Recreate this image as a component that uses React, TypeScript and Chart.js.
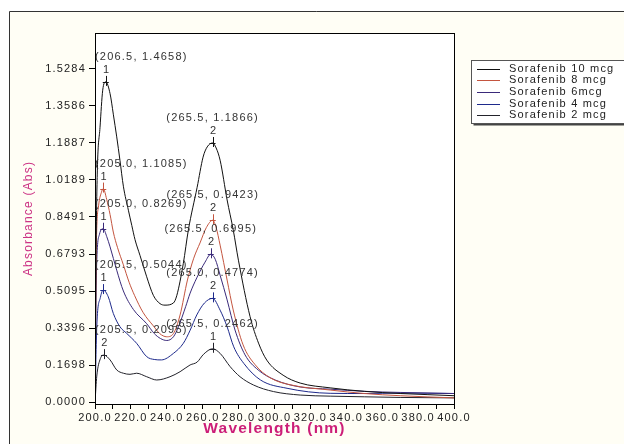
import React, { useEffect, useRef } from "react";
import { Chart, registerables } from "chart.js";

Chart.register(...registerables);

// ---- data ----
const seriesLabels = ["Sorafenib 10 mcg", "Sorafenib 8 mcg", "Sorafenib 6mcg", "Sorafenib 4 mcg", "Sorafenib 2 mcg"];
const seriesColors = ["#111111", "#c4553f", "#3a2a7a", "#1e2a8c", "#23232b"];

const wl10 = [200, 200.6, 201.3, 202.8, 204.3, 206.0, 208.4, 210.2, 212.1, 213.9, 215.8, 218.6, 220.5, 222.3, 225.1, 228.8, 232.5, 236.2, 239.0, 243.7, 245.6, 249.2, 252.0, 256.9, 260.2, 262.5, 265.5, 267.5, 269.7, 273.6, 277.0, 279.9, 286.4, 291.1, 295.7, 304.8, 314.3, 331, 350, 370, 385, 400];
const abs10 = [0.02, 0.7, 1.06, 1.26, 1.43, 1.468, 1.414, 1.32, 1.216, 1.109, 0.99, 0.88, 0.81, 0.745, 0.672, 0.575, 0.49, 0.452, 0.445, 0.455, 0.49, 0.636, 0.789, 0.985, 1.123, 1.17, 1.188, 1.165, 1.109, 0.927, 0.79, 0.651, 0.392, 0.271, 0.193, 0.124, 0.088, 0.066, 0.05, 0.04, 0.035, 0.03];

const wl8 = [200, 200.7, 202.0, 203.5, 204.6, 206.5, 208.4, 210.2, 212.5, 215.8, 219.0, 222.0, 226.9, 232.5, 236.0, 240.0, 243.7, 247.4, 251.5, 255.0, 258.5, 262.0, 265.6, 267.5, 269.7, 273.6, 277.0, 282.5, 289.2, 297.6, 308.7, 331, 350, 370, 400];
const abs8 = [0.01, 0.7, 0.9, 0.96, 0.979, 0.93, 0.86, 0.78, 0.71, 0.63, 0.55, 0.49, 0.41, 0.35, 0.315, 0.3, 0.315, 0.4, 0.56, 0.66, 0.73, 0.8, 0.834, 0.8, 0.72, 0.56, 0.423, 0.263, 0.172, 0.112, 0.08, 0.056, 0.04, 0.03, 0.02];

const wl6 = [200, 200.8, 202.5, 204.6, 206.5, 208.4, 212.1, 215.8, 221.4, 228.8, 233.0, 236.5, 240.0, 243.7, 246.5, 250.5, 253.0, 256.7, 261.3, 264.5, 267.0, 269.7, 273.6, 278.0, 283.6, 290.9, 300.4, 314.3, 331, 350, 370, 400];
const abs6 = [0.01, 0.6, 0.77, 0.795, 0.76, 0.712, 0.605, 0.51, 0.425, 0.36, 0.315, 0.292, 0.283, 0.3, 0.346, 0.438, 0.5, 0.57, 0.642, 0.678, 0.655, 0.582, 0.469, 0.331, 0.217, 0.148, 0.102, 0.07, 0.06, 0.05, 0.045, 0.04];

const wl4 = [200, 201.0, 203.0, 204.6, 207.4, 210.2, 213.9, 217.6, 223.2, 228.8, 233.0, 237.0, 243.7, 249.2, 253.0, 256.7, 261.0, 265.5, 269.7, 273.6, 277.3, 282.9, 292.2, 307.0, 331, 350, 370, 400];
const abs4 = [0.0, 0.35, 0.48, 0.514, 0.483, 0.407, 0.346, 0.316, 0.27, 0.209, 0.196, 0.194, 0.224, 0.27, 0.33, 0.4, 0.455, 0.476, 0.422, 0.346, 0.254, 0.178, 0.102, 0.064, 0.041, 0.04, 0.042, 0.04];

const wl2 = [200, 201.0, 203.0, 205.0, 208.4, 212.1, 215.8, 219.5, 223.2, 228.8, 234.4, 241.8, 247.4, 253.0, 256.9, 260.5, 265.5, 269.7, 275.3, 280.8, 288.3, 299.4, 314.3, 331, 350, 370, 400];
const abs2 = [0.0, 0.12, 0.2, 0.216, 0.194, 0.148, 0.133, 0.128, 0.133, 0.117, 0.102, 0.117, 0.14, 0.171, 0.184, 0.22, 0.245, 0.224, 0.163, 0.117, 0.079, 0.049, 0.033, 0.028, 0.025, 0.022, 0.02];

const seriesWl = [wl10, wl8, wl6, wl4, wl2];
const seriesAbs = [abs10, abs8, abs6, abs4, abs2];

const yTickValues = [0, 0.1698, 0.3396, 0.5095, 0.6793, 0.8491, 1.0189, 1.1887, 1.3586, 1.5284];
const xTickValues = [200, 210, 220, 230, 240, 250, 260, 270, 280, 290, 300, 310, 320, 330, 340, 350, 360, 370, 380, 390, 400];

// peak annotations: series, search window (nm), peak number, text
const peakSeries = [0, 0, 1, 1, 2, 2, 3, 3, 4, 4];
const peakLo = [200, 250, 200, 250, 200, 250, 200, 250, 200, 250];
const peakHi = [230, 290, 230, 290, 230, 290, 230, 290, 230, 290];
const peakNum = ["1", "2", "1", "2", "1", "2", "1", "2", "2", "1"];
const peakText = [
  "(206.5, 1.4658)", "(265.5, 1.1866)",
  "(205.0, 1.1085)", "(265.5, 0.9423)",
  "(205.0, 0.8269)", "(265.5, 0.6995)",
  "(205.5, 0.5044)", "(265.0, 0.4774)",
  "(205.5, 0.2095)", "(265.5, 0.2462)",
];

const FONT = "Arial, 'Liberation Sans', sans-serif";
const SPACING = "1.2px";

function peakIndex(wl: number[], ab: number[], lo: number, hi: number) {
  let best = -1;
  for (let i = 0; i < wl.length; i++) {
    if (wl[i] < lo || wl[i] > hi) continue;
    if (best < 0 || ab[i] > ab[best]) best = i;
  }
  return best;
}

const framePlugin = {
  id: "frame",
  beforeDraw(chart: any) {
    const ctx = chart.ctx;
    const { left, top, right, bottom } = chart.chartArea;
    ctx.save();
    ctx.fillStyle = "#ffffff";
    ctx.fillRect(0, 0, chart.width, chart.height);
    ctx.fillStyle = "#fffef5";
    ctx.fillRect(9.5, 11.5, chart.width, chart.height);
    ctx.strokeStyle = "#333333";
    ctx.lineWidth = 1;
    ctx.beginPath();
    ctx.moveTo(9.5, chart.height);
    ctx.lineTo(9.5, 11.5);
    ctx.lineTo(chart.width, 11.5);
    ctx.stroke();
    ctx.fillStyle = "#ffffff";
    ctx.fillRect(left, top, right - left, bottom - top);
    ctx.restore();
    (ctx as any).letterSpacing = SPACING;
  },
  afterDraw(chart: any) {
    const ctx = chart.ctx;
    const { left, top, right, bottom } = chart.chartArea;
    ctx.save();
    ctx.strokeStyle = "#000";
    ctx.lineWidth = 1;
    ctx.strokeRect(Math.round(left) + 0.5, Math.round(top) + 0.5, Math.round(right - left), Math.round(bottom - top));
    // legend
    const lx = 471.5, ly = 60.5, lw = 160, lh = 63;
    ctx.fillStyle = "#444";
    ctx.fillRect(lx + 2, ly + 2, lw, lh);
    ctx.fillStyle = "#fff";
    ctx.fillRect(lx, ly, lw, lh);
    ctx.strokeStyle = "#555";
    ctx.strokeRect(lx, ly, lw, lh);
    ctx.font = `11px ${FONT}`;
    (ctx as any).letterSpacing = SPACING;
    ctx.textBaseline = "middle";
    ctx.textAlign = "left";
    chart.data.datasets.forEach((ds: any, i: number) => {
      const y = 68.5 + i * 11.7;
      ctx.strokeStyle = ds.borderColor;
      ctx.beginPath();
      ctx.moveTo(477, Math.round(y) + 0.5);
      ctx.lineTo(500, Math.round(y) + 0.5);
      ctx.stroke();
      ctx.fillStyle = "#222";
      ctx.fillText(ds.label, 509, y);
    });
    ctx.restore();
  },
  afterDatasetsDraw(chart: any) {
    const ctx = chart.ctx;
    const area = chart.chartArea;
    ctx.save();
    ctx.font = `11px ${FONT}`;
    (ctx as any).letterSpacing = SPACING;
    ctx.textBaseline = "middle";
    ctx.textAlign = "left";
    for (let k = 0; k < peakSeries.length; k++) {
      const s = peakSeries[k];
      const idx = peakIndex(seriesWl[s], seriesAbs[s], peakLo[k], peakHi[k]);
      const el = chart.getDatasetMeta(s).data[idx];
      if (!el) continue;
      const x = el.x, y = el.y;
      ctx.strokeStyle = seriesColors[s];
      ctx.lineWidth = 1;
      ctx.beginPath();
      ctx.moveTo(Math.round(x) + 0.5, y - 6);
      ctx.lineTo(Math.round(x) + 0.5, y + 4);
      ctx.moveTo(x - 3, Math.round(y) + 0.5);
      ctx.lineTo(x + 3, Math.round(y) + 0.5);
      ctx.stroke();
      ctx.fillStyle = "#333";
      const nw = ctx.measureText(peakNum[k]).width;
      ctx.fillText(peakNum[k], x - nw / 2 + 1, y - 12);
      const tw = ctx.measureText(peakText[k]).width;
      let tx = x - tw / 2;
      if (tx < area.left) tx = area.left;
      ctx.fillText(peakText[k], tx, y - 25);
    }
    ctx.restore();
  },
};

export default function App() {
  const ref = useRef<HTMLCanvasElement | null>(null);
  useEffect(() => {
    if (!ref.current) return;
    const datasets = seriesLabels.map((label, i) => ({
      label,
      data: seriesWl[i].map((w, j) => ({ x: w, y: seriesAbs[i][j] })),
      borderColor: seriesColors[i],
      backgroundColor: seriesColors[i],
      borderWidth: 1,
      pointRadius: 0,
      cubicInterpolationMode: "monotone" as const,
      fill: false,
    }));
    const chart = new Chart(ref.current, {
      type: "line",
      data: { datasets },
      plugins: [framePlugin],
      options: {
        animation: false,
        responsive: false,
        devicePixelRatio: 1,
        layout: { padding: { left: 20, top: 33, right: 170, bottom: 0 } },
        plugins: { legend: { display: false }, tooltip: { enabled: false } },
        scales: {
          x: {
            type: "linear",
            min: 200,
            max: 400,
            afterBuildTicks: (s: any) => {
              s.ticks = xTickValues.map((v) => ({ value: v }));
            },
            afterFit: (s: any) => {
              s.height = 40;
            },
            ticks: {
              autoSkip: false,
              maxRotation: 0,
              minRotation: 0,
              padding: 2,
              color: "#222",
              font: { family: FONT, size: 11 },
              callback: (v: any) => (Number(v) % 20 === 0 ? Number(v).toFixed(1) : ""),
            },
            grid: { drawOnChartArea: false, drawTicks: true, tickLength: 5, color: "#000" },
            border: { display: true, color: "#000", width: 1 },
            title: {
              display: true,
              text: "Wavelength (nm)",
              color: "#cc1e78",
              font: { family: FONT, size: 15.5, weight: "bold" },
              padding: { top: 0, bottom: 6 },
            },
          },
          y: {
            type: "linear",
            min: -0.008,
            max: 1.692,
            afterBuildTicks: (s: any) => {
              s.ticks = yTickValues.map((v) => ({ value: v }));
            },
            afterFit: (s: any) => {
              s.width = 75;
            },
            ticks: {
              autoSkip: false,
              padding: 3,
              color: "#222",
              font: { family: FONT, size: 11 },
              callback: (v: any) => Number(v).toFixed(4),
            },
            grid: { drawOnChartArea: false, drawTicks: true, tickLength: 6, color: "#000" },
            border: { display: true, color: "#000", width: 1 },
            title: {
              display: true,
              text: "Absorbance (Abs)",
              color: "#cc3385",
              font: { family: FONT, size: 12 },
              padding: { top: 1, bottom: 0 },
            },
          },
        },
      } as any,
    });
    return () => chart.destroy();
  }, []);
  return (
    <div style={{ position: "fixed", left: 0, top: 0, width: 624, height: 444, overflow: "hidden" }}>
      <canvas ref={ref} width={624} height={444} style={{ display: "block", width: 624, height: 444 }} />
    </div>
  );
}
